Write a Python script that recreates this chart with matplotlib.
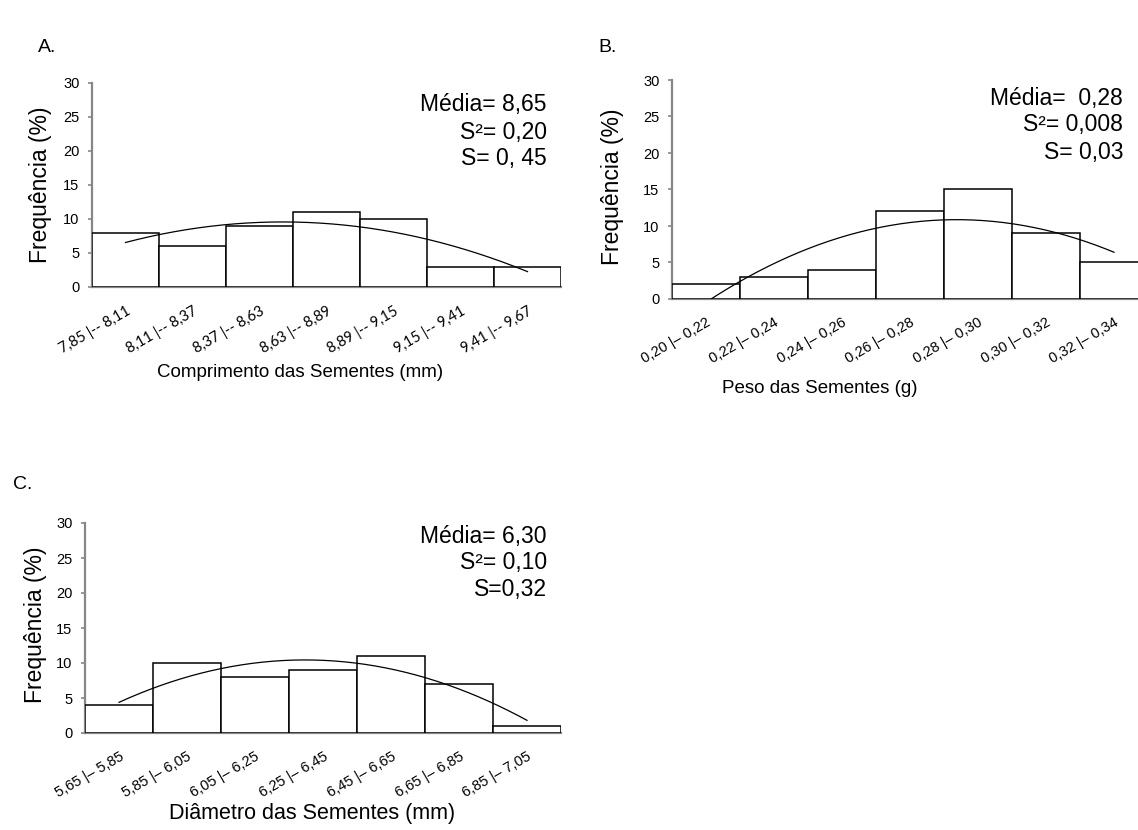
import numpy as np
import matplotlib
matplotlib.use("Agg")
import matplotlib.pyplot as plt

W, H = 1138, 830

# dados
freq_a = [8, 6, 9, 11, 10, 3, 3]
freq_b = [2, 3, 4, 12, 15, 9, 5]
freq_c = [4, 10, 8, 9, 11, 7, 1]

classes_a = ["7,85 |-- 8,11", "8,11 |-- 8,37", "8,37 |-- 8,63", "8,63 |-- 8,89",
             "8,89 |-- 9,15", "9,15 |-- 9,41", "9,41 |-- 9,67"]
classes_b = ["0,20 |\u2013 0,22", "0,22 |\u2013 0,24", "0,24 |\u2013 0,26", "0,26 |\u2013 0,28",
             "0,28 |\u2013 0,30", "0,30 |\u2013 0,32", "0,32 |\u2013 0,34"]
classes_c = ["5,65 |\u2013 5,85", "5,85 |\u2013 6,05", "6,05 |\u2013 6,25", "6,25 |\u2013 6,45",
             "6,45 |\u2013 6,65", "6,65 |\u2013 6,85", "6,85 |\u2013 7,05"]

stats_a = ["M\u00e9dia= 8,65", "S\u00b2= 0,20", "S= 0, 45"]
stats_b = ["M\u00e9dia=  0,28", "S\u00b2= 0,008", "S= 0,03"]
stats_c = ["M\u00e9dia= 6,30", "S\u00b2= 0,10", "S=0,32"]

titulo_a = "Comprimento das Sementes (mm)"
titulo_b = "Peso das Sementes (g)"
titulo_c = "Di\u00e2metro das Sementes (mm)"

plt.rcParams['font.family'] = ['Liberation Sans', 'DejaVu Sans']

fig = plt.figure(figsize=(W / 100, H / 100), dpi=100)


def caixa(x0, x1, ytop, ybot):
    return [x0 / W, 1 - ybot / H, (x1 - x0) / W, (ybot - ytop) / H]


def fy(y):
    return 1 - y / H


def histograma(rect, freq, classes, fonte_ticks, tam):
    ax = fig.add_axes(rect)
    idx = np.arange(len(freq))
    ax.bar(idx, freq, width=1.0, color='white', edgecolor='black', linewidth=1.1, zorder=2)
    # linha de tendencia polinomial (ordem 2)
    coef = np.polyfit(idx, freq, 2)
    xs = np.linspace(idx[0], idx[-1], 200)
    ax.plot(xs, np.polyval(coef, xs), color='black', linewidth=0.9, zorder=3)
    ax.set_xlim(-0.5, len(freq) - 0.5)
    ax.set_ylim(0, 30)
    ax.set_yticks(range(0, 31, 5))
    ax.set_xticks(idx)
    ax.set_xticklabels(classes, rotation=30, ha='right', va='top',
                       rotation_mode='anchor', fontsize=tam, family=fonte_ticks)
    ax.tick_params(axis='x', length=0, pad=12)
    ax.tick_params(axis='y', length=3, width=1.2, color='#878787', labelsize=10.5, pad=6)
    for s in ['top', 'right']:
        ax.spines[s].set_visible(False)
    for s in ['left', 'bottom']:
        ax.spines[s].set_color('#878787')
        ax.spines[s].set_linewidth(1.6)
        ax.spines[s].set_zorder(1)
    ax.patch.set_alpha(0)
    return ax


histograma(caixa(92, 561, 83, 287), freq_a, classes_a, ['Lato', 'DejaVu Sans'], 10.5)
histograma(caixa(672, 1148, 80, 299), freq_b, classes_b, ['Liberation Sans', 'DejaVu Sans'], 10.5)
histograma(caixa(85, 561, 523, 733), freq_c, classes_c, ['Liberation Sans', 'DejaVu Sans'], 10.5)

# estatisticas
for linhas, xr, ys in [(stats_a, 547, [105, 132, 159]),
                       (stats_b, 1123, [98, 125, 152]),
                       (stats_c, 547, [537, 563, 589])]:
    for t, y in zip(linhas, ys):
        fig.text(xr / W, fy(y), t, ha='right', va='center', fontsize=16.5)

# eixos y
for x, y in [(41, 185), (612, 187), (36, 625)]:
    fig.text(x / W, fy(y), "Frequ\u00eancia (%)", rotation=90, ha='center', va='center', fontsize=16.5)

# titulos eixo x
fig.text(300 / W, fy(372), titulo_a, ha='center', va='center', fontsize=13.5)
fig.text(820 / W, fy(388), titulo_b, ha='center', va='center', fontsize=13.5)
fig.text(312 / W, fy(813), titulo_c, ha='center', va='center', fontsize=15.5)

# letras dos paineis
fig.text(38 / W, fy(47), "A.", ha='left', va='center', fontsize=14)
fig.text(598 / W, fy(47), "B.", ha='left', va='center', fontsize=14)
fig.text(13 / W, fy(484), "C.", ha='left', va='center', fontsize=14)

fig.savefig("out.png", dpi=100)
